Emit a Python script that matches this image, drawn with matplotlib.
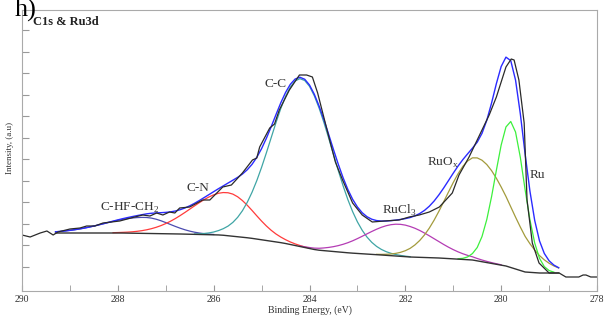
#XPS fit plot, C1s & Ru3d region
import numpy as np
import matplotlib
matplotlib.use('Agg')
import matplotlib.pyplot as plt
from matplotlib.ticker import MultipleLocator

plt.rcParams['font.family'] = ['Liberation Serif', 'DejaVu Serif']
plt.rcParams['mathtext.fontset'] = 'custom'
plt.rcParams['mathtext.rm'] = 'Liberation Serif'

# raw spectrum (binding energy in eV, intensity in a.u.)
data_E = [290.00, 289.83, 289.62, 289.48, 289.35, 289.25, 289.00, 288.79, 288.65, 288.48,
          288.31, 287.96, 287.65, 287.48, 287.33, 287.19, 287.06, 286.92, 286.81, 286.71,
          286.50, 286.23, 286.08, 285.81, 285.63, 285.40, 285.19, 285.10, 285.04, 284.83,
          284.73, 284.63, 284.42, 284.21, 284.06, 283.94, 283.83, 283.58, 283.46, 283.31,
          283.10, 282.90, 282.69, 282.44, 282.13, 281.92, 281.71, 281.50, 281.29, 281.02,
          280.88, 280.67, 280.40, 280.25, 280.10, 279.90, 279.79, 279.73, 279.63, 279.52,
          279.46, 279.35, 279.21, 279.00, 278.79, 278.65, 278.48, 278.38, 278.29, 278.23,
          278.13, 278.00]
data_I = [56, 54, 58, 60, 56, 59, 62, 63, 65, 65,
          68, 70, 74, 76, 75, 78, 76, 79, 78, 83,
          84, 91, 91, 104, 106, 118, 131, 133, 144, 163,
          167, 181, 201, 216, 216, 214, 198, 151, 129, 111,
          88, 76, 69, 70, 71, 74, 76, 79, 84, 98,
          116, 134, 161, 176, 194, 224, 232, 231, 211, 168,
          91, 48, 28, 18, 18, 14, 14, 14, 16, 16,
          14, 14]

# Shirley background
bg_E = [289.30, 287.95, 286.70, 285.85, 285.25, 284.55, 283.85, 283.15, 282.50,
        281.90, 281.30, 280.60, 279.90, 279.50, 279.20, 278.75]
bg_I = [58, 58, 57, 56, 53, 48, 41, 38, 36, 34, 33, 31, 25, 19, 18, 18]

# fitted components
names = ['C-HF-CH$_\\mathrm{2}$', 'C-N', 'C-C', 'RuCl$_\\mathrm{3}$', 'RuO$_\\mathrm{x}$', 'Ru']
centers = [287.44, 285.71, 284.17, 282.12, 280.52, 279.80]
heights = [16, 43, 168, 32, 103, 146]
sig_hi = [0.82, 0.76, 0.64, 0.71, 0.62, 0.32]   # high BE side
sig_lo = [0.52, 0.55, 0.64, 0.71, 0.70, 0.28]   # low BE side
colors = ['#4b4bb0', '#ff3b3b', '#3fa5a5', '#b43cb4', '#a39b3c', '#3cf03c']
label_E = [287.75, 286.33, 284.71, 282.13, 281.21, 279.25]
label_I = [83, 103, 207, 81, 128, 116]

E = np.arange(289.3, 278.75, -0.1)
bg = np.interp(E, bg_E[::-1], bg_I[::-1])

fig = plt.figure(figsize=(6.1, 3.2), dpi=100)
ax = fig.add_axes([22/610, 29/320, 575/610, 281/320])

env = bg.copy()
for c, h, s1, s2, col in zip(centers, heights, sig_hi, sig_lo, colors):
    s = np.where(E > c, s1, s2)
    g = h*np.exp(-0.5*((E - c)/s)**2)
    env += g
    m = g > 0.3
    ax.plot(E[m], (bg + g)[m], color=col, lw=0.9)

ax.plot(E, bg, color='#333333', lw=1.0)
ax.plot(E, env, color='#2b2bff', lw=1.0)
ax.plot(data_E, data_I, color='#2a2a2a', lw=0.9)

for n, x, y in zip(names, label_E, label_I):
    ax.text(x, y, n, ha='center', va='center', fontsize=9.5, color='#333333')

ax.text(0.019, 0.957, 'C1s & Ru3d', transform=ax.transAxes, fontsize=9,
        fontweight='bold', va='center', ha='left', color='#222222')
fig.text(15/610, 1 - 17/320, 'h)', fontsize=19, va='baseline', ha='left')

ax.set_xlim(290, 278)
ax.set_ylim(0, 281)
ax.xaxis.set_major_locator(MultipleLocator(2))
ax.xaxis.set_minor_locator(MultipleLocator(1))
ax.set_yticks(np.arange(24, 270, 21.55))
ax.set_yticklabels([])
ax.tick_params(axis='both', which='both', direction='in', length=4, color='#999999',
               labelsize=7, labelcolor='#333333', pad=3)
ax.tick_params(axis='y', length=5)
for sp in ax.spines.values():
    sp.set_color('#aaaaaa')
ax.set_xlabel('Binding Energy, (eV)', fontsize=7, color='#333333', labelpad=1)
ax.set_ylabel('Intensity, (a.u)', fontsize=6.5, color='#333333')
ax.yaxis.set_label_coords(-0.014, 0.51)

plt.savefig('out.png', dpi=100)
